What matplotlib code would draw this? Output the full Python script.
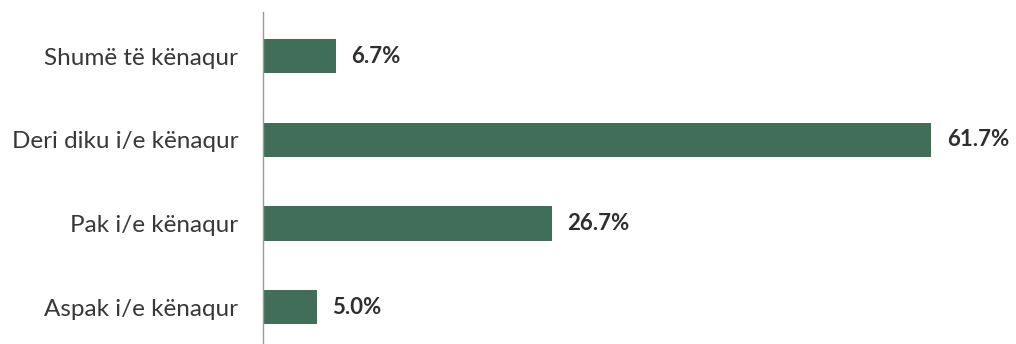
import matplotlib
matplotlib.use("Agg")
import matplotlib.pyplot as plt

categories = ["Shumë të kënaqur", "Deri diku i/e kënaqur", "Pak i/e kënaqur", "Aspak i/e kënaqur"]
values = [6.7, 61.7, 26.7, 5.0]

BAR_COLOR = "#406e58"
TEXT_COLOR = "#2e2e2e"

plt.rcParams["font.family"] = ["Lato", "DejaVu Sans"]

fig = plt.figure(figsize=(10.16, 3.44), dpi=100)
ax = fig.add_axes([263 / 1016, 0, 1 - 263 / 1016, 332 / 344])

ypos = list(range(len(categories)))
ax.barh(ypos, values, height=0.41, color=BAR_COLOR, zorder=2)

for y, v in zip(ypos, values):
    ax.text(v + 1.4, y, f"{v:.1f}%", va="center", ha="left",
            fontsize=16, fontweight="bold", color=TEXT_COLOR)

ax.set_yticks(ypos)
ax.set_yticklabels(categories, fontsize=17.5, color="#383838")
ax.tick_params(axis="y", length=0, pad=18)
ax.set_xticks([])
ax.set_xlim(0, 69.5)
ax.set_ylim(3.44, -0.526)

for side in ("top", "right", "bottom"):
    ax.spines[side].set_visible(False)
ax.spines["left"].set_color("#999999")
ax.spines["left"].set_linewidth(1.0)

fig.savefig("out.png", dpi=100)
